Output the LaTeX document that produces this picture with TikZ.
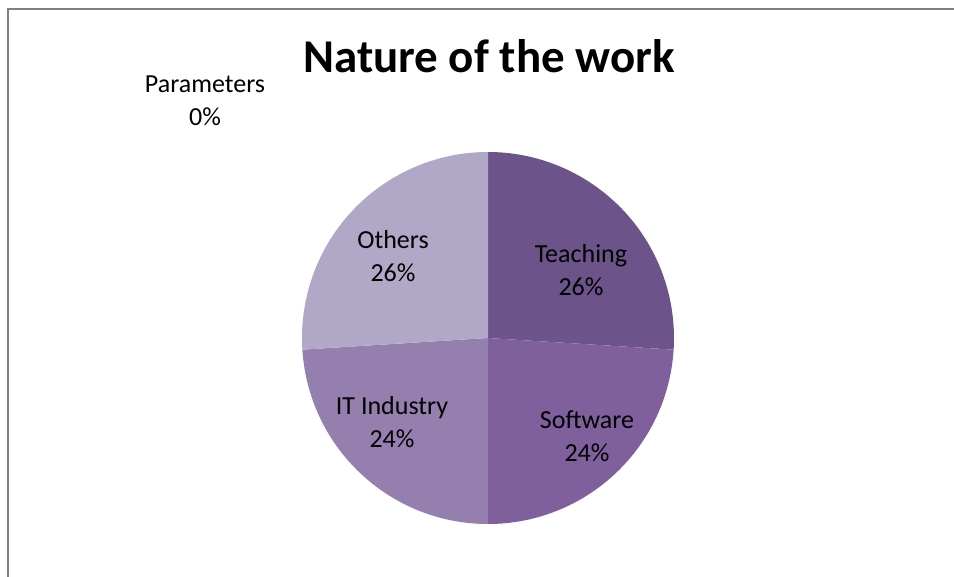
\documentclass[tikz,border=0pt]{standalone}
\usepackage{fontspec}
\setmainfont{Carlito}
\usetikzlibrary{calc,math}

\definecolor{teachcol}{HTML}{6C548A}
\definecolor{softcol}{HTML}{7F609C}
\definecolor{itcol}{HTML}{947FAF}
\definecolor{othercol}{HTML}{B1A7C6}
\definecolor{framecol}{HTML}{808080}

\tikzset{
  slicelabel/.style={align=center,font=\fontsize{26}{33}\selectfont,inner sep=0pt},
}

\begin{document}
\begin{tikzpicture}[x=1pt,y=1pt]
  \tikzmath{
    real \radius;
    \radius = 186;
  }
  \useasboundingbox (0,0) rectangle (954,-577);
  \fill[white] (0,0) rectangle (954,-577);

  \draw[framecol,line width=2pt] (8,-577) -- (8,-9) -- (954,-9);

  \coordinate (pie) at (488,-338);
  \foreach \from/\to/\shade in {90/-3.6/teachcol,-3.6/-90/softcol,-90/-176.4/itcol,-176.4/-270/othercol} {
    \fill[\shade] (pie) -- ($(pie)+(\from:\radius)$) arc[start angle=\from,end angle=\to,radius=\radius] -- cycle;
  }

  \node[anchor=base,font=\fontsize{47}{56}\selectfont\bfseries,inner sep=0pt] (title) at (489,-73) {Nature of the work};

  \node[slicelabel] (teaching) at (581,-270) {Teaching\\26\%};
  \node[slicelabel] (software) at (587,-436) {Software\\24\%};
  \node[slicelabel] (itind) at (392,-422) {IT Industry\\24\%};
  \node[slicelabel] (others) at (393,-256) {Others\\26\%};
  \node[slicelabel] (params) at (205,-101) {Parameters\\0\%};
\end{tikzpicture}
\end{document}
